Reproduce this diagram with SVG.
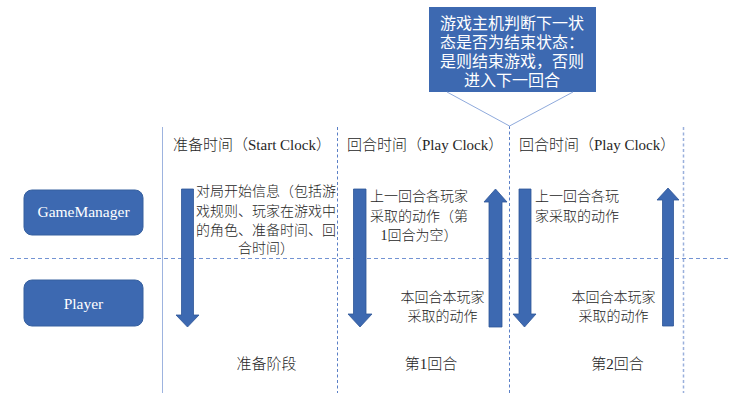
<svg xmlns="http://www.w3.org/2000/svg" width="746" height="404" viewBox="0 0 746 404">
<style>
.t{font-family:"Liberation Serif","Noto Sans CJK SC",serif;fill:#262626}
.lt{font-weight:300}
.h{font-size:15px}
.b{font-size:14px}
.w{fill:#ffffff}
.box{fill:#3d69b1;stroke:#36609f;stroke-width:1}
.arr{fill:#3d69b1;stroke:#2f5597;stroke-width:0.8}
.dv{stroke:#5a7fc6;stroke-width:1;stroke-dasharray:3 2.5;fill:none}
</style>
<rect width="746" height="404" fill="#ffffff"/>
<g id="lanes">
<line x1="162.5" y1="127" x2="162.5" y2="393" stroke="#9db3df" stroke-width="1"/>
<line class="dv" x1="337.5" y1="127" x2="337.5" y2="393"/>
<line class="dv" x1="509.5" y1="126" x2="509.5" y2="393"/>
<line x1="683.5" y1="127" x2="683.5" y2="393" stroke="#9ab0dc" stroke-width="1.5" stroke-dasharray="3 2.5"/>
<line x1="10" y1="258.5" x2="731" y2="258.5" stroke="#7393d3" stroke-width="1" stroke-dasharray="4 3"/>
</g>
<g id="gamemanager">
<rect class="box" x="24" y="190" width="119" height="45" rx="8"/>
<text class="t w" x="83.5" y="217" font-size="15.5" text-anchor="middle">GameManager</text>
</g>
<g id="player">
<rect class="box" x="24" y="280" width="119" height="46" rx="8"/>
<text class="t w" x="83.5" y="309" font-size="15.5" text-anchor="middle">Player</text>
</g>
<g id="callout">
<rect x="429" y="7" width="167" height="85" fill="#3d69b1"/>
<g class="t w" font-size="16" text-anchor="middle">
<text class="w" x="512" y="29">游戏主机判断下一状</text>
<text class="w" x="512" y="48">态是否为结束状态：</text>
<text class="w" x="512" y="67">是则结束游戏，否则</text>
<text class="w" x="512" y="86">进入下一回合</text>
</g>
</g>
<g id="connectors">
<polyline points="447,92 509.5,126 573,92" fill="none" stroke="#8faadc" stroke-width="1"/>
<polygon class="arr" points="181.5,189 193.5,189 193.5,315 199,315 187.5,327 176,315 181.5,315"/>
<polygon class="arr" points="353.5,189 366,189 366,314 372,314 360,327 348,314 353.5,314"/>
<polygon class="arr" points="489,327 502,327 502,202 507,202 495.5,189 484,202 489,202"/>
<polygon class="arr" points="519,189 531,189 531,314 536,314 524.5,327 513,314 519,314"/>
<polygon class="arr" points="662.5,326 673.5,326 673.5,200 679,200 668,188 657,200 662.5,200"/>
</g>
<g id="labels" class="t lt">
<text class="h" x="173" y="150">准备时间（Start Clock）</text>
<text class="h" x="347" y="150">回合时间（Play Clock）</text>
<text class="h" x="519" y="150">回合时间（Play Clock）</text>
<g class="b" text-anchor="middle">
<text x="266" y="196">对局开始信息（包括游</text>
<text x="266" y="216">戏规则、玩家在游戏中</text>
<text x="266" y="235">的角色、准备时间、回</text>
<text x="266" y="253">合时间）</text>
<text x="419" y="201">上一回合各玩家</text>
<text x="419" y="221">采取的动作（第</text>
<text x="419" y="240">1回合为空）</text>
<text x="442.5" y="302">本回合本玩家</text>
<text x="442.5" y="321">采取的动作</text>
<text x="577" y="201">上一回合各玩</text>
<text x="577" y="221">家采取的动作</text>
<text x="613.5" y="302">本回合本玩家</text>
<text x="613.5" y="321">采取的动作</text>
</g>
<g class="h" text-anchor="middle">
<text x="266.5" y="369">准备阶段</text>
<text x="431" y="369">第1回合</text>
<text x="617.5" y="369">第2回合</text>
</g>
</g>
</svg>
